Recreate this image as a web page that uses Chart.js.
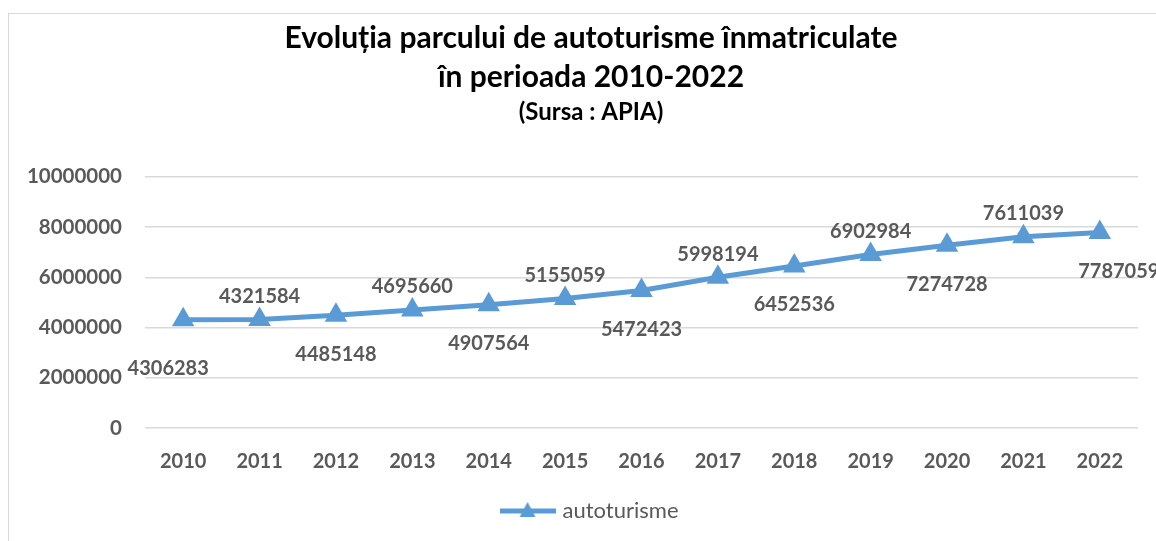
<!DOCTYPE html>
<html>
<head>
<meta charset="utf-8">
<title>Evoluția parcului de autoturisme</title>
<script src="https://cdn.jsdelivr.net/npm/chart.js@4.4.0/dist/chart.umd.min.js"></script>
<style>
  html, body { margin: 0; padding: 0; background: #fff; overflow: hidden; }
  #box {
    position: absolute; left: 8px; top: 13px;
    width: 1166px; height: 540px;
    border: 1px solid #d9d9d9; box-sizing: border-box;
  }
  #chart { display: block; }
</style>
</head>
<body>
<div id="box"><canvas id="chart" width="1164" height="538"></canvas></div>
<script>
const years = ['2010', '2011', '2012', '2013', '2014', '2015', '2016',
               '2017', '2018', '2019', '2020', '2021', '2022'];
const autoturisme = [4306283, 4321584, 4485148, 4695660, 4907564, 5155059, 5472423,
                     5998194, 6452536, 6902984, 7274728, 7611039, 7787059];
const yTicks = [0, 2000000, 4000000, 6000000, 8000000, 10000000];

const BLUE = '#5b9bd5';
const GREY = '#595959';

// legend symbol: line with a triangle in the middle
function legendSymbol() {
  const c = document.createElement('canvas');
  c.width = 56;
  c.height = 24;
  const ctx = c.getContext('2d');
  ctx.strokeStyle = BLUE;
  ctx.lineWidth = 5;
  ctx.beginPath();
  ctx.moveTo(0, 12);
  ctx.lineTo(56, 12);
  ctx.stroke();
  ctx.fillStyle = BLUE;
  ctx.beginPath();
  ctx.moveTo(28, 3);
  ctx.lineTo(36, 18);
  ctx.lineTo(20, 18);
  ctx.closePath();
  ctx.fill();
  return c;
}

// value labels, alternating below / above the points
const valueLabels = {
  id: 'valueLabels',
  afterDatasetsDraw(chart) {
    const ctx = chart.ctx;
    const meta = chart.getDatasetMeta(0);
    const data = chart.data.datasets[0].data;
    ctx.save();
    ctx.font = 'bold 20px Lato';
    ctx.fillStyle = GREY;
    ctx.textAlign = 'center';
    ctx.textBaseline = 'middle';
    meta.data.forEach((pt, i) => {
      let dx = 0;
      let dy = i % 2 === 0 ? 39 : -23;
      if (i === 0) { dx = -15; dy = 49; }
      if (i === data.length - 1) dx = 19;
      ctx.fillText(String(data[i]), pt.x + dx, pt.y + dy);
    });
    ctx.restore();
  }
};

const chart = new Chart(document.getElementById('chart'), {
  type: 'line',
  data: {
    labels: years,
    datasets: [{
      label: 'autoturisme',
      data: autoturisme,
      borderColor: BLUE,
      backgroundColor: BLUE,
      borderWidth: 5,
      pointStyle: 'triangle',
      pointRadius: 13,
      pointBorderWidth: 0,
      tension: 0
    }]
  },
  options: {
    responsive: false,
    animation: false,
    layout: { padding: { left: 0, right: 0, top: 0, bottom: 20 } },
    plugins: {
      title: {
        display: true,
        text: ['Evoluția parcului de autoturisme înmatriculate', 'în perioada 2010-2022'],
        color: '#000',
        font: { family: 'Lato', size: 30, weight: 'bold', lineHeight: 1.3 },
        padding: { top: 5, bottom: 1 }
      },
      subtitle: {
        display: true,
        text: '(Sursa : APIA)',
        color: '#000',
        font: { family: 'Lato', size: 24, weight: 'bold', lineHeight: 1.2 },
        padding: { top: 0, bottom: 50 }
      },
      legend: {
        position: 'bottom',
        labels: {
          usePointStyle: true,
          pointStyle: legendSymbol(),
          pointStyleWidth: 48,
          color: GREY,
          font: { family: 'Lato', size: 22 },
          padding: 10
        }
      },
      tooltip: { enabled: false }
    },
    scales: {
      x: {
        offset: true,
        grid: { display: false, drawTicks: false },
        border: { display: false },
        ticks: {
          color: GREY,
          font: { family: 'Lato', size: 20, weight: 'bold' },
          padding: 22
        },
        afterFit(axis) { axis.height = 62; }
      },
      y: {
        min: 0,
        max: 10000000,
        afterBuildTicks(axis) { axis.ticks = yTicks.map(v => ({ value: v })); },
        grid: { color: '#d9d9d9', lineWidth: 1.5, drawTicks: false },
        border: { display: false },
        ticks: {
          color: GREY,
          font: { family: 'Lato', size: 20.5, weight: 'bold' },
          padding: 23,
          callback: value => String(value)
        },
        afterFit(axis) { axis.width = 136; }
      },
      // empty right-hand spacer so the plot ends where the reference ends
      spacer: {
        type: 'linear',
        position: 'right',
        min: 0,
        max: 1,
        grid: { display: false, drawTicks: false },
        border: { display: false },
        ticks: { display: false },
        afterFit(axis) { axis.width = 35; }
      }
    }
  },
  plugins: [valueLabels]
});
</script>
</body>
</html>
